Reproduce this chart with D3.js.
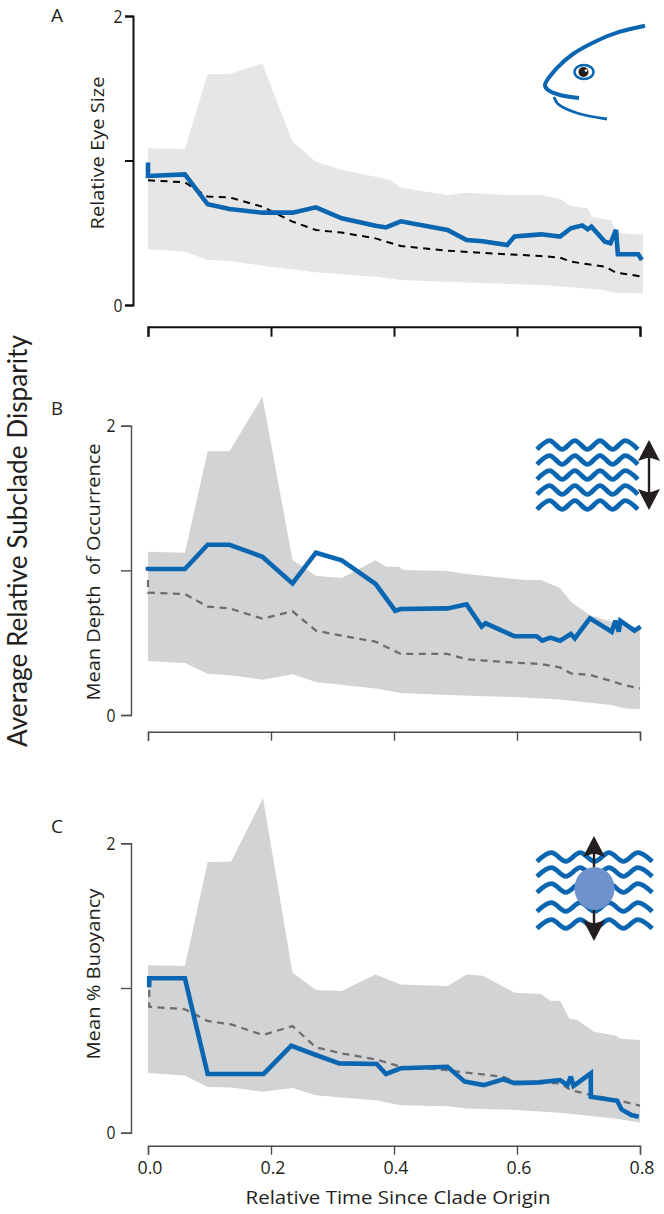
<!DOCTYPE html>
<html>
<head>
<meta charset="utf-8">
<script src="https://cdnjs.cloudflare.com/ajax/libs/d3/7.8.5/d3.min.js"></script>
<style>
  html, body { margin: 0; padding: 0; background: #fff; }
  text { font-family: "Open Sans", sans-serif; fill: #231f20; }
  text.overall { font-family: Lato, sans-serif; }
</style>
</head>
<body>
<svg id="chart" width="664" height="1214"></svg>
<script>
// Relative time, subclade disparity: [time, value] pairs for each panel.
const eyeUpper = [[0,1.084],[.06,1.08],[.097,1.599],[.1325,1.599],[.186,1.67],[.235,1.13],[.273,.992],[.315,.934],[.37,.888],[.394,.865],[.411,.812],[.487,.761],[.518,.777],[.584,.761],[.639,.761],[.67,.734],[.6875,.685],[.715,.669],[.722,.611],[.753,.584],[.761,.507],[.781,.491],[.805,.489]];
const eyeLower = [[0,.385],[.06,.369],[.097,.311],[.1325,.304],[.186,.272],[.273,.226],[.37,.196],[.411,.173],[.518,.155],[.639,.138],[.6875,.122],[.739,.104],[.761,.085],[.805,.081]];
const eyeObserved = [[0,.987],[0,.893],[.06,.904],[.097,.697],[.1325,.664],[.186,.639],[.235,.639],[.273,.676],[.315,.6],[.37,.549],[.387,.537],[.411,.579],[.487,.519],[.518,.45],[.544,.441],[.584,.415],[.596,.475],[.639,.489],[.67,.473],[.6875,.531],[.706,.551],[.715,.524],[.721,.542],[.743,.438],[.752,.427],[.761,.519],[.764,.351],[.797,.351],[.803,.311]];
const eyeExpected = [[0,.863],[.06,.849],[.097,.75],[.1325,.745],[.186,.68],[.235,.577],[.273,.519],[.315,.501],[.37,.461],[.411,.408],[.487,.376],[.584,.351],[.639,.339],[.67,.328],[.6875,.3],[.743,.265],[.761,.224],[.805,.196]];

const depthUpper = [[0,1.129],[.06,1.122],[.097,1.823],[.1325,1.823],[.186,2.2],[.235,1.071],[.273,.963],[.315,.947],[.37,1.069],[.387,1.025],[.408,1.025],[.415,1.002],[.487,.995],[.518,.975],[.596,.94],[.615,.933],[.639,.933],[.67,.878],[.6875,.783],[.718,.691],[.753,.645],[.8,.599]];
const depthLower = [[0,.373],[.06,.359],[.097,.286],[.1325,.274],[.186,.244],[.235,.281],[.273,.228],[.37,.184],[.411,.152],[.487,.138],[.596,.124],[.67,.108],[.753,.069],[.774,.046],[.8,.039]];
const depthObserved = [[0,.998],[0,1.009],[.06,1.009],[.097,1.177],[.1325,1.177],[.186,1.094],[.235,.91],[.273,1.122],[.315,1.069],[.37,.906],[.402,.721],[.411,.733],[.487,.737],[.518,.765],[.5425,.611],[.549,.634],[.596,.544],[.632,.544],[.641,.514],[.654,.535],[.67,.514],[.6875,.56],[.694,.53],[.7185,.668],[.754,.576],[.76,.652],[.7655,.576],[.768,.652],[.791,.583],[.801,.611]];
const depthExpected = [[0,.933],[0,.846],[.06,.836],[.097,.749],[.1325,.737],[.186,.666],[.235,.717],[.273,.583],[.315,.548],[.37,.507],[.411,.422],[.487,.422],[.518,.385],[.596,.362],[.639,.353],[.67,.329],[.6875,.288],[.72,.276],[.753,.235],[.774,.207],[.8,.184]];

const buoyUpper = [[0,1.157],[.06,1.152],[.097,1.871],[.135,1.873],[.187,2.313],[.235,1.106],[.273,.986],[.315,.979],[.37,1.094],[.411,1.025],[.487,1.014],[.518,1.094],[.544,1.085],[.596,.968],[.639,.959],[.654,.912],[.67,.912],[.685,.79],[.698,.779],[.725,.698],[.76,.671],[.768,.65],[.8,.641]];
const buoyLower = [[0,.412],[.06,.396],[.097,.316],[.135,.313],[.187,.283],[.235,.309],[.273,.258],[.315,.244],[.37,.224],[.411,.189],[.487,.182],[.518,.168],[.596,.157],[.67,.138],[.76,.099],[.8,.071]];
const buoyObserved = [[.002,1.005],[.002,1.067],[.06,1.067],[.097,.406],[.188,.406],[.233,.601],[.273,.537],[.311,.479],[.372,.475],[.387,.406],[.411,.445],[.487,.456],[.515,.353],[.546,.329],[.577,.369],[.596,.343],[.636,.348],[.67,.364],[.682,.329],[.6875,.387],[.692,.323],[.72,.41],[.72,.249],[.763,.221],[.77,.161],[.786,.122],[.798,.111]];
const buoyExpected = [[.002,.986],[.002,.871],[.06,.853],[.097,.772],[.135,.749],[.187,.675],[.235,.737],[.273,.59],[.315,.548],[.37,.507],[.411,.456],[.487,.433],[.518,.415],[.577,.387],[.596,.353],[.67,.341],[.6875,.295],[.72,.26],[.763,.226],[.8,.187]];

const timeTicks = [0, 0.2, 0.4, 0.6, 0.8];
const disparityTicks = [0, 1, 2];

const BLUE = "#0b66b1";
const svg = d3.select("#chart");
const x = d3.scaleLinear().domain([0, 0.8]).range([148, 640]);

const panels = [
  { letter: "A", title: "Relative Eye Size", titleX: 97, titleMid: 153, titleLen: 153,
    range: [305, 16], axisX: 133, tickLen: 8, tickLabelX: 123, axisY: 326.7, letterY: 22,
    upper: eyeUpper, lower: eyeLower, observed: eyeObserved, expected: eyeExpected,
    band: "#e6e6e6", dash: "#000", dashWidth: 2, axisColor: "#111", axisWidth: 2, showTime: false },
  { letter: "B", title: "Mean Depth  of Occurrence", titleX: 93, titleMid: 572, titleLen: 257,
    range: [715, 425.7], axisX: 131, tickLen: 10, tickLabelX: 116, axisY: 731.7, letterY: 415,
    upper: depthUpper, lower: depthLower, observed: depthObserved, expected: depthExpected,
    band: "#d1d3d4", dash: "#6d6e71", dashWidth: 2.3, axisColor: "#4d4d4f", axisWidth: 1.4, showTime: false },
  { letter: "C", title: "Mean % Buoyancy", titleX: 93, titleMid: 974, titleLen: 171,
    range: [1132.7, 843.3], axisX: 131, tickLen: 10, tickLabelX: 116, axisY: 1145.7, letterY: 833,
    upper: buoyUpper, lower: buoyLower, observed: buoyObserved, expected: buoyExpected,
    band: "#d1d3d4", dash: "#6d6e71", dashWidth: 2.3, axisColor: "#4d4d4f", axisWidth: 1.4, showTime: true }
];

panels.forEach(p => {
  const y = d3.scaleLinear().domain([0, 2]).range(p.range);
  const line = d3.line().x(d => x(d[0])).y(d => y(d[1]));
  const g = svg.append("g");

  // Envelope of simulated disparity: upper edge out, lower edge back.
  g.append("path")
    .attr("d", line(p.upper.concat(p.lower.slice().reverse())) + "Z")
    .attr("fill", p.band);

  g.append("path").attr("d", line(p.expected))
    .attr("fill", "none").attr("stroke", p.dash)
    .attr("stroke-width", p.dashWidth).attr("stroke-dasharray", "7,5.5");

  g.append("path").attr("d", line(p.observed))
    .attr("fill", "none").attr("stroke", BLUE)
    .attr("stroke-width", 4.6).attr("stroke-linejoin", "miter").attr("stroke-miterlimit", 3);

  // Value axis.
  const yAxis = g.append("g").attr("transform", `translate(${p.axisX},0)`)
    .call(d3.axisLeft(y).tickValues(disparityTicks).tickSize(p.tickLen).tickFormat(() => ""));
  yAxis.selectAll("path,line").attr("stroke", p.axisColor).attr("stroke-width", p.axisWidth);

  disparityTicks.filter(t => t !== 1).forEach(t => {
    g.append("text").attr("x", p.tickLabelX - 5).attr("y", y(t) + 6.5)
      .attr("text-anchor", "middle").attr("font-size", 18)
      .attr("textLength", 9).attr("lengthAdjust", "spacingAndGlyphs").text(t);
  });

  // Time axis; only the bottom panel carries labels.
  const xAxis = g.append("g").attr("transform", `translate(0,${p.axisY})`)
    .call(d3.axisBottom(x).tickValues(timeTicks).tickSize(p.tickLen === 8 ? 10 : 9).tickFormat(() => ""));
  xAxis.selectAll("path,line").attr("stroke", p.axisColor).attr("stroke-width", p.axisWidth);
  if (p.showTime) {
    timeTicks.forEach(t => {
      g.append("text").attr("x", x(t) + 2).attr("y", 1173.5)
        .attr("text-anchor", "middle").attr("font-size", 18)
        .attr("textLength", 25).attr("lengthAdjust", "spacingAndGlyphs").text(t.toFixed(1));
    });
  }

  g.append("text").attr("x", 51).attr("y", p.letterY).attr("font-size", 19)
    .attr("textLength", 12).attr("lengthAdjust", "spacingAndGlyphs").text(p.letter);

  g.append("text")
    .attr("transform", `translate(${p.titleX + 7},${p.titleMid}) rotate(-90)`)
    .attr("text-anchor", "middle").attr("font-size", 19)
    .attr("textLength", p.titleLen).attr("lengthAdjust", "spacingAndGlyphs")
    .attr("xml:space", "preserve").text(p.title);
});

svg.append("text").attr("class", "overall")
  .attr("transform", "translate(27,541) rotate(-90)")
  .attr("text-anchor", "middle").attr("font-size", 26)
  .attr("textLength", 412).attr("lengthAdjust", "spacingAndGlyphs")
  .text("Average Relative Subclade Disparity");

svg.append("text")
  .attr("x", 398).attr("y", 1204)
  .attr("text-anchor", "middle").attr("font-size", 19)
  .attr("textLength", 305).attr("lengthAdjust", "spacingAndGlyphs")
  .text("Relative Time Since Clade Origin");

// Fish head icon.
const smooth = d3.line().curve(d3.curveCatmullRom.alpha(0.5));
const fish = svg.append("g").attr("fill", "none").attr("stroke", BLUE);
fish.append("path").attr("stroke-width", 4)
  .attr("d", smooth([[645,25.7],[620,31.7],[597,40.7],[573,54],[557,68],[545,85],[548,90],[560,95],[579,98]]));
fish.append("path").attr("stroke-width", 2.8)
  .attr("d", smooth([[554,97],[558,104],[577,113],[607,119]]));
fish.append("ellipse").attr("cx", 584).attr("cy", 72).attr("rx", 9.5).attr("ry", 7).attr("stroke-width", 2.4);
svg.append("circle").attr("cx", 583.5).attr("cy", 72).attr("r", 5).attr("fill", "#231f20");
svg.append("circle").attr("cx", 586).attr("cy", 70.5).attr("r", 1.3).attr("fill", "#fff");

// Rows of waves for the depth and buoyancy icons.
function waves(rows, x0, hump, count) {
  const w = svg.append("g").attr("fill", "none").attr("stroke", BLUE).attr("stroke-width", 4.8);
  rows.forEach(ry => {
    const pts = [];
    for (let i = 0; i <= count * 2; i++) {
      pts.push([x0 + i * hump / 2, ry + (i % 2 === 0 ? 4.4 : -4.4)]);
    }
    w.append("path").attr("d", d3.line().curve(d3.curveCatmullRom.alpha(0.5))(pts));
  });
}

function doubleArrow(cx, top, bottom) {
  const a = svg.append("g").attr("fill", "#231f20");
  a.append("path").attr("d", `M${cx},${top}L${cx + 11},${top + 21}L${cx + 2},${top + 18}L${cx - 2},${top + 18}L${cx - 11},${top + 21}Z`);
  a.append("path").attr("d", `M${cx},${bottom}L${cx + 11},${bottom - 21}L${cx + 2},${bottom - 18}L${cx - 2},${bottom - 18}L${cx - 11},${bottom - 21}Z`);
  a.append("rect").attr("x", cx - 1.2).attr("y", top + 10).attr("width", 2.4).attr("height", bottom - top - 20);
}

waves([445, 460, 475, 490, 505], 537, 25.2, 4);
doubleArrow(649, 440, 510);

waves([857, 872, 888, 907, 924], 537, 28.8, 4);
doubleArrow(594, 836, 941);
svg.append("ellipse").attr("cx", 594.5).attr("cy", 888.5).attr("rx", 20).attr("ry", 21.5).attr("fill", "#6f91cc");
</script>
</body>
</html>
